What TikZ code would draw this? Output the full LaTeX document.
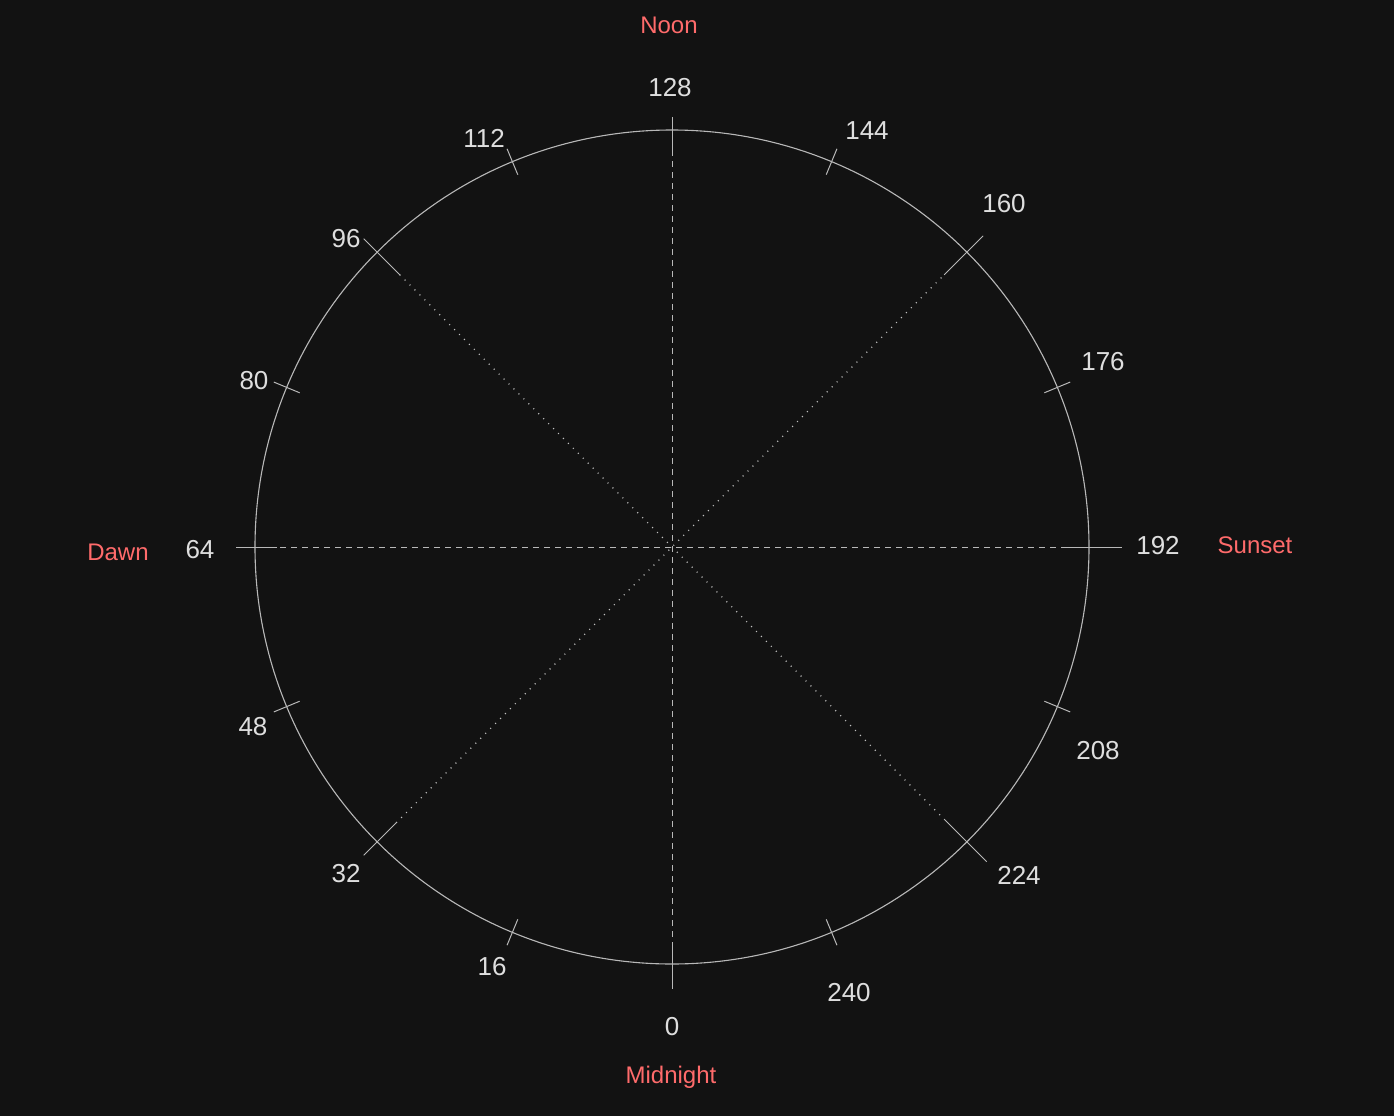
\documentclass[tikz,border=0pt]{standalone}
\usepackage{fontspec}
\setmainfont{Liberation Sans}
\usetikzlibrary{calc}
\definecolor{bgc}{HTML}{121212}
\definecolor{ringc}{HTML}{B8B8B8}
\definecolor{numc}{HTML}{DEDEDE}
\definecolor{redc}{HTML}{FF6B6B}
\begin{document}
\begin{tikzpicture}[x=1pt,y=-1pt,
  num/.style={text=numc,font=\fontsize{26}{26}\selectfont,inner sep=0pt,anchor=center},
  tag/.style={text=redc,font=\fontsize{24}{24}\selectfont,inner sep=0pt,anchor=center},
  tickline/.style={draw=ringc,line width=1pt},
  axisline/.style={draw=ringc,line width=1pt,dash pattern=on 6pt off 5pt},
  diagline/.style={draw=ringc!90!white,line width=1.3pt,dash pattern=on 1pt off 6pt}]
\fill[bgc] (0,0) rectangle (1394,1116);
\useasboundingbox (0,0) rectangle (1394,1116);
\coordinate (C) at (672,547);
\node[draw=ringc,circle,minimum size=834pt,inner sep=0pt,line width=1.1pt] (ring) at (C) {};
% tick coordinates
\foreach \v/\ri/\ro in {0/395/442,16/403/431,32/390/436,48/403/431,64/395/436,80/403/431,96/385/436,112/403/431,128/395/430,144/403/431,160/385/440,176/403/431,192/395/450,208/403/431,224/385/445,240/403/431}{
  \pgfmathsetmacro\a{\v*1.40625-270}
  \coordinate (i\v) at ($(C)+(\a:\ri)$);
  \coordinate (o\v) at ($(C)+(\a:\ro)$);
  \draw[tickline] (i\v) -- (o\v);
}
% axes
\draw[axisline] (o128) -- (o0);
\draw[axisline] (o64) -- (o192);
\draw[diagline] (i96) -- (i224);
\draw[diagline] (i32) -- (i160);
% numbers
\node[num] (l0) at (672,1027) {0};
\node[num] (l16) at (492,967) {16};
\node[num] (l32) at (346,874) {32};
\node[num] (l48) at (253,727) {48};
\node[num] (l64) at (200,550) {64};
\node[num] (l80) at (254,381) {80};
\node[num] (l96) at (346,239) {96};
\node[num] (l112) at (484,138) {112};
\node[num] (l128) at (670,88) {128};
\node[num] (l144) at (867,131) {144};
\node[num] (l160) at (1004,204) {160};
\node[num] (l176) at (1103,362) {176};
\node[num] (l192) at (1158,546) {192};
\node[num] (l208) at (1098,751) {208};
\node[num] (l224) at (1019,875) {224};
\node[num] (l240) at (849,993) {240};
% tags
\node[tag] (noon) at (669,25) {Noon};
\node[tag] (sunset) at (1255,545) {Sunset};
\node[tag] (dawn) at (118,552) {Dawn};
\node[tag] (midnight) at (671,1077) {Midnight};
\end{tikzpicture}
\end{document}
